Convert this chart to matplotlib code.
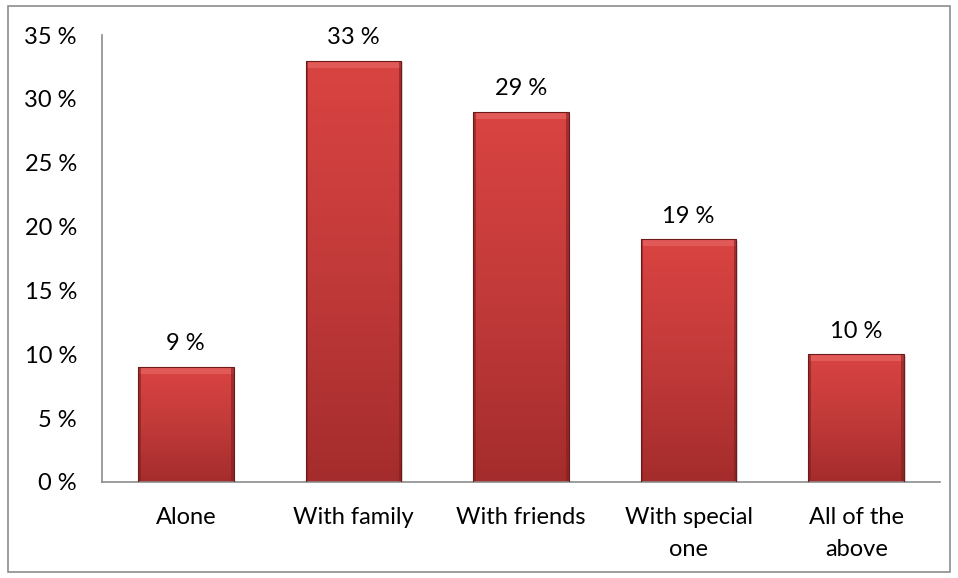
import numpy as np
import matplotlib
matplotlib.use("Agg")
import matplotlib.pyplot as plt
from matplotlib.patches import Rectangle
from matplotlib.colors import LinearSegmentedColormap

plt.rcParams['font.family'] = ['Lato', 'DejaVu Sans']

categories = ["Alone", "With family", "With friends", "With special\none", "All of the\nabove"]
shares = [9, 33, 29, 19, 10]
yticks = [0, 5, 10, 15, 20, 25, 30, 35]

fig = plt.figure(figsize=(9.58, 5.78), dpi=100)
# grey frame round the whole chart area
fig.patches.append(Rectangle((8 / 958, 6 / 578), 942 / 958, 566 / 578, transform=fig.transFigure,
                             fill=False, edgecolor="#8c8c8c", linewidth=1.2))

ax = fig.add_axes([102 / 958, 1 - 482 / 578, 838 / 958, 447 / 578])
x = np.arange(len(categories))
width = 0.57

red = LinearSegmentedColormap.from_list("red", ["#a52c2c", "#c23a3a", "#d94441"])
grad = np.linspace(0, 1, 256).reshape(-1, 1)

bars = ax.bar(x, shares, width, color="none", edgecolor="#6e1a1a", linewidth=0.8, zorder=3)
for b, v in zip(bars, shares):
    x0, w = b.get_x(), b.get_width()
    # drop shadow under the bar
    ax.add_patch(Rectangle((x0 + 0.01, -0.15), w, v, color="#999999", alpha=0.35, zorder=1, linewidth=0))
    im = ax.imshow(grad, cmap=red, aspect="auto", origin="lower",
                   extent=(x0, x0 + w, 0, v), zorder=2)
    im.set_clip_path(b)
    # bevel: light band on top, darker side strips
    ax.add_patch(Rectangle((x0, v - 0.55), w, 0.55, color="#e25a57", zorder=2.5, linewidth=0))
    ax.add_patch(Rectangle((x0, 0), 0.015, v, color="#7d2020", alpha=0.6, zorder=2.5, linewidth=0))
    ax.add_patch(Rectangle((x0 + w - 0.015, 0), 0.015, v, color="#7d2020", alpha=0.6, zorder=2.5, linewidth=0))
    ax.text(b.get_x() + w / 2, v + 1.0, f"{v} %", ha="center", va="bottom", fontsize=17)

ax.set_xlim(-0.5, len(categories) - 0.5)
ax.set_ylim(0, 35)
ax.set_yticks(yticks)
ax.set_yticklabels([f"{t} %" for t in yticks], fontsize=17)
ax.set_xticks(x)
ax.set_xticklabels(categories, fontsize=17, linespacing=1.62)
ax.tick_params(axis="both", length=0)
ax.tick_params(axis="y", pad=18)
ax.tick_params(axis="x", pad=18)
for s in ["top", "right"]:
    ax.spines[s].set_visible(False)
for s in ["left", "bottom"]:
    ax.spines[s].set_color("#8c8c8c")
    ax.spines[s].set_linewidth(1.2)

fig.savefig("out.png", dpi=100)
